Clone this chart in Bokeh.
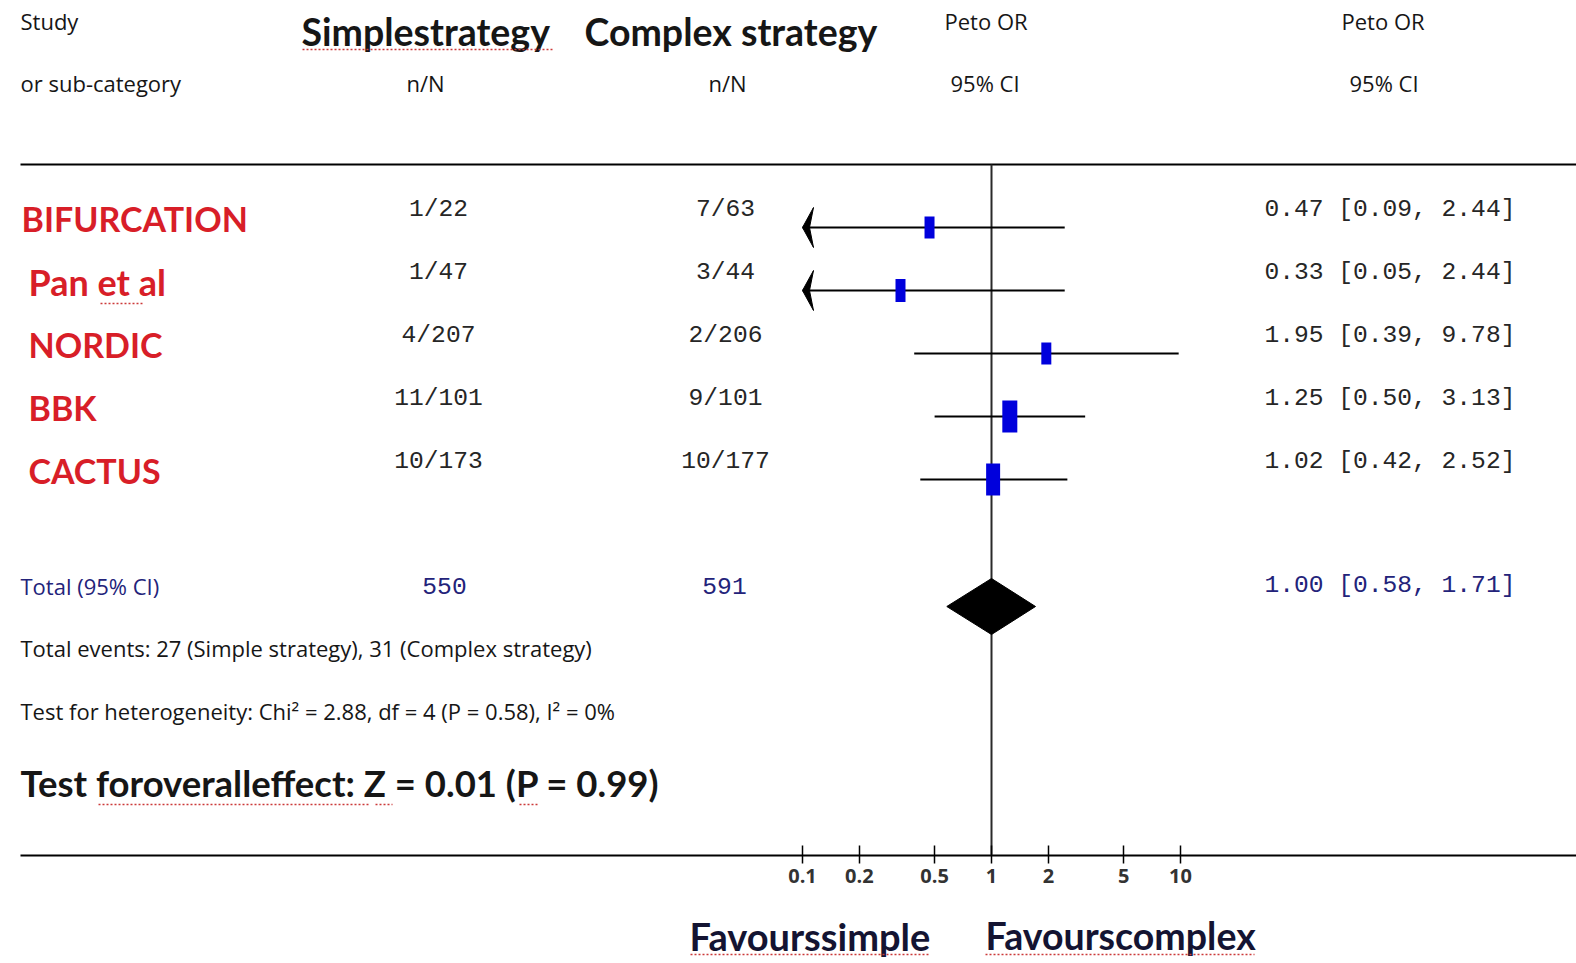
from bokeh.plotting import figure
from bokeh.models import Range1d, LogScale, LogAxis, FixedTicker, CustomJSTickFormatter
from bokeh.core.properties import value
from bokeh.embed import file_html
from bokeh.resources import INLINE

# ---- data ---------------------------------------------------------------
studies = ["BIFURCATION", "Pan et al", "NORDIC", "BBK", "CACTUS"]
simple_events = ["1/22", "1/47", "4/207", "11/101", "10/173"]
complex_events = ["7/63", "3/44", "2/206", "9/101", "10/177"]
peto_or = [0.47, 0.33, 1.95, 1.25, 1.02]
ci_low = [0.09, 0.05, 0.39, 0.50, 0.42]
ci_high = [2.44, 2.44, 9.78, 3.13, 2.52]

total_simple_n = 550
total_complex_n = 591
total_or = 1.00
total_low = 0.58
total_high = 1.71
total_events = [27, 31]
chi2, df, p_het, i2 = 2.88, 4, 0.58, 0
z_value, p_overall = 0.01, 0.99

axis_ticks = [0.1, 0.2, 0.5, 1, 2, 5, 10]

# ---- layout -------------------------------------------------------------
W, H = 1576, 963
ONE_X = 991        # horizontal pixel of OR = 1
DECADE = 189       # pixels per decade on the OR scale
AXIS_Y = 855
TOP_RULE_Y = 164
ROW0, ROW_STEP = 227, 63
rows = [ROW0 + ROW_STEP * i for i in range(len(studies))]
TOTAL_Y = 606

SANS = value("Open Sans")
BOLD = value("Lato")
MONO = value("Liberation Mono")
INK = "#161616"
RED = "#d81e28"
NAVY = "#23237a"
BLUE = "#0000dc"
SQUIGGLE = "#cc3a3a"
SMALL = "22px"
MONO_SIZE = "24.6px"

p = figure(width=W, height=H, x_range=Range1d(0, W), y_range=Range1d(H, 0),
           x_axis_type=None, y_axis_type=None, output_backend="svg",
           toolbar_location=None, min_border=0)
p.outline_line_color = None
p.background_fill_color = "white"
p.extra_x_ranges = {"or": Range1d(10 ** (-ONE_X / DECADE), 10 ** ((W - ONE_X) / DECADE))}
p.extra_x_scales = {"or": LogScale()}


def txt(x, y, s, font=SANS, size=SMALL, style="normal", color=INK, align="left"):
    p.text(x=[x], y=[y], text=[s], text_font=font, text_font_size=size,
           text_font_style=style, text_color=color, text_align=align,
           text_baseline="middle")


def underline(x0, x1, y):
    p.segment(x0=[x0], x1=[x1], y0=[y], y1=[y], line_color=SQUIGGLE,
              line_width=1.6, line_dash="2 2")


# column headers
txt(20, 20, "Study")
txt(20, 82, "or sub-category")
txt(301, 31, "Simplestrategy", font=BOLD, size="37.5px", style="bold")
txt(584, 31, "Complex strategy", font=BOLD, size="37.5px", style="bold")
underline(302, 552, 49)
txt(425, 82, "n/N", align="center")
txt(727, 82, "n/N", align="center")
txt(944, 20, "Peto OR")
txt(950, 82, "95% CI")
txt(1341, 20, "Peto OR")
txt(1349, 82, "95% CI")

# rules
p.segment(x0=[20, 20], x1=[W, W], y0=[TOP_RULE_Y, AXIS_Y], y1=[TOP_RULE_Y, AXIS_Y],
          line_color="black", line_width=2)
p.segment(x0=[1], x1=[1], y0=[TOP_RULE_Y], y1=[AXIS_Y], x_range_name="or",
          line_color="#2a2a2a", line_width=2)

# study rows
name_x = [21, 28, 28, 28, 28]
name_size = ["34px", "36px", "34px", "34px", "34px"]
axis_min = axis_ticks[0]
for i, name in enumerate(studies):
    y = rows[i]
    txt(name_x[i], y - 9, name, font=BOLD, size=name_size[i], style="bold", color=RED)
    txt(438, y - 18, simple_events[i], font=MONO, size=MONO_SIZE, align="center", color="#262626")
    txt(725, y - 18, complex_events[i], font=MONO, size=MONO_SIZE, align="center", color="#262626")
    txt(1264, y - 18, f"{peto_or[i]:.2f} [{ci_low[i]:.2f}, {ci_high[i]:.2f}]",
        font=MONO, size=MONO_SIZE, color="#262626")
underline(100, 142, 303)

# confidence intervals, clipped at the left end of the axis
lo_drawn = [max(lo, axis_min) for lo in ci_low]
p.segment(x0=lo_drawn, x1=ci_high, y0=rows, y1=rows, x_range_name="or",
          line_color="black", line_width=2)

# arrow heads for intervals running past the axis
head_len = 10 ** (11 / DECADE)
notch = 10 ** (7 / DECADE)
for lo, y in zip(ci_low, rows):
    if lo < axis_min:
        p.patch(x=[axis_min, axis_min * head_len, axis_min * notch, axis_min * head_len],
                y=[y, y - 20, y, y + 20], x_range_name="or",
                fill_color="black", line_color="black", line_width=1)

# study weights as boxes
box_w = [10, 10, 10, 15, 14]
box_h = [22, 23, 22, 32, 32]
p.rect(x=peto_or, y=rows, width=box_w, height=box_h, width_units="screen",
       height_units="screen", x_range_name="or", fill_color=BLUE, line_color=None)

# pooled estimate
txt(20, 585, "Total (95% CI)", color=NAVY)
txt(444, 585, str(total_simple_n), font=MONO, size=MONO_SIZE, align="center", color=NAVY)
txt(724, 585, str(total_complex_n), font=MONO, size=MONO_SIZE, align="center", color=NAVY)
txt(1264, 585, f"{total_or:.2f} [{total_low:.2f}, {total_high:.2f}]",
    font=MONO, size=MONO_SIZE, color=NAVY)
p.patch(x=[total_low, total_or, total_high, total_or],
        y=[TOTAL_Y, TOTAL_Y - 28, TOTAL_Y, TOTAL_Y + 28], x_range_name="or",
        fill_color="black", line_color="black")

# summary statistics
txt(20, 647, f"Total events: {total_events[0]} (Simple strategy), {total_events[1]} (Complex strategy)")
txt(20, 710, f"Test for heterogeneity: Chi\u00b2 = {chi2:.2f}, df = {df} (P = {p_het:.2f}), I\u00b2 = {i2}%")
txt(20, 782, f"Test foroveralleffect: Z = {z_value:.2f} (P = {p_overall:.2f})",
    font=BOLD, size="36.5px", style="bold")
underline(98, 370, 804)
underline(375, 392, 804)
underline(519, 537, 804)

# odds-ratio axis
ax = LogAxis(x_range_name="or", ticker=FixedTicker(ticks=axis_ticks),
             formatter=CustomJSTickFormatter(code="return String(tick)"),
             fixed_location=AXIS_Y)
ax.axis_line_color = None
ax.major_tick_in = 10
ax.major_tick_out = 8
ax.major_tick_line_width = 1.5
ax.major_tick_line_color = "black"
ax.minor_tick_line_color = None
ax.major_label_standoff = 5
ax.major_label_text_font = "Open Sans"
ax.major_label_text_font_size = "20px"
ax.major_label_text_font_style = "bold"
ax.major_label_text_color = "#333333"
p.add_layout(ax, "below")

txt(689, 935, "Favourssimple", font=BOLD, size="38px", style="bold", color="#141432")
txt(985, 935, "Favourscomplex", font=BOLD, size="37.5px", style="bold", color="#141432")
underline(690, 930, 954)
underline(985, 1254, 954)

open("out.html", "w").write(file_html(p, INLINE))
